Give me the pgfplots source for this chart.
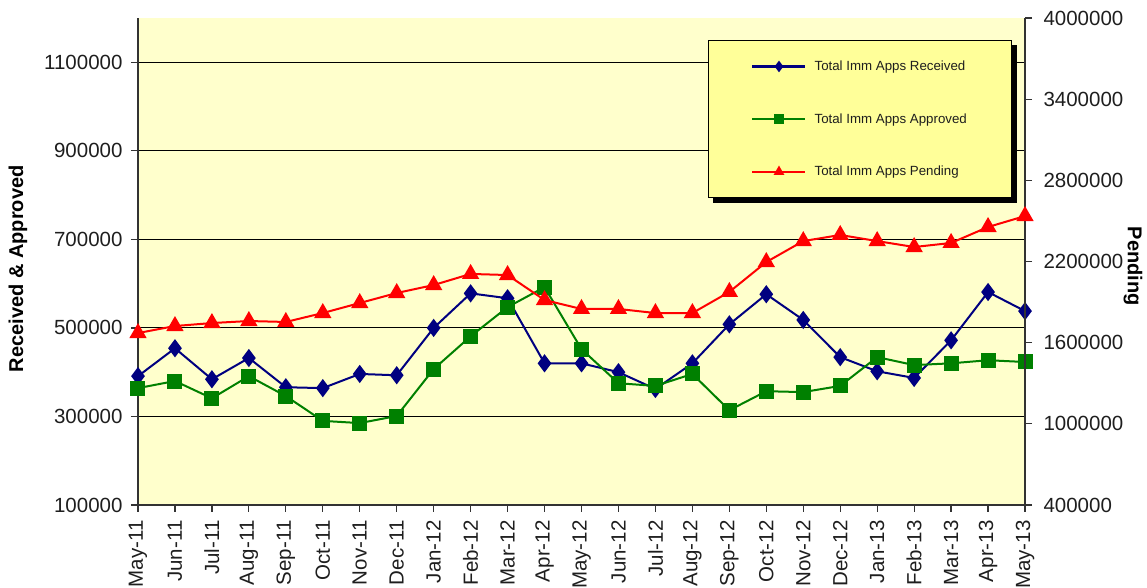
\documentclass[border=0pt]{standalone}
\usepackage{fontspec}
\setmainfont{Liberation Sans}
\usepackage{pgfplots}
\pgfplotsset{compat=1.18}
\definecolor{navyc}{RGB}{0,0,128}
\definecolor{greenc}{RGB}{0,128,0}
\definecolor{redc}{RGB}{255,0,0}
\definecolor{bgyellow}{RGB}{255,255,204}
\definecolor{legyellow}{RGB}{255,255,153}
\definecolor{txt}{RGB}{30,30,30}
\begin{document}
\begin{tikzpicture}
\pgfplotsset{
  common/.style={
    width=887pt, height=487pt, scale only axis,
    at={(0,0)}, anchor=south west,
    xmin=0, xmax=24,
    scaled ticks=false,
    /pgf/number format/fixed,
    /pgf/number format/1000 sep={},
    /pgf/number format/assume math mode=true,
    tick label style={font=\fontsize{20.5}{23}\selectfont, text=txt},
    axis line style={-, black!80, line width=1.2pt},
    tick style={black!80, line width=1.2pt},
    tick align=outside,
    major tick length=7pt,
  }
}
\begin{axis}[common,
  ymin=100000, ymax=1200000,
  ytick={100000,300000,500000,700000,900000,1100000},
  axis x line*=bottom, axis y line*=left,
  ymajorgrids, major grid style={black, line width=1pt},
  axis background/.style={fill=bgyellow},
  xtick={0,...,24},
  xticklabels={May-11,Jun-11,Jul-11,Aug-11,Sep-11,Oct-11,Nov-11,Dec-11,Jan-12,Feb-12,Mar-12,Apr-12,May-12,Jun-12,Jul-12,Aug-12,Sep-12,Oct-12,Nov-12,Dec-12,Jan-13,Feb-13,Mar-13,Apr-13,May-13},
  xticklabel style={rotate=90, anchor=east},
  xticklabel shift=5pt,
  yticklabel shift=5pt,
  ylabel={Received \& Approved},
  every axis y label/.style={at={(axis description cs:-0.1353,0.485)}, rotate=90, anchor=center, font=\fontsize{20}{24}\selectfont\bfseries},
]
\addplot[navyc, line width=2pt, mark=diamond*, mark size=7.5pt, mark options={solid}] coordinates {
(0,391000)(1,454000)(2,384000)(3,432000)(4,366000)(5,364000)(6,396000)(7,393000)(8,500000)(9,578000)(10,567000)(11,420000)(12,420000)(13,400000)(14,362000)(15,420000)(16,508000)(17,576000)(18,518000)(19,434000)(20,402000)(21,387000)(22,472000)(23,581000)(24,538000)};
\addplot[greenc, line width=2pt, mark=square*, mark size=6.5pt, mark options={solid}] coordinates {
(0,364000)(1,380000)(2,341000)(3,391000)(4,346000)(5,290000)(6,285000)(7,301000)(8,407000)(9,481000)(10,547000)(11,592000)(12,452000)(13,375000)(14,369000)(15,396000)(16,314000)(17,357000)(18,355000)(19,369000)(20,434000)(21,416000)(22,420000)(23,427000)(24,423000)};
\end{axis}
\begin{axis}[common,
  ymin=400000, ymax=4000000,
  ytick={400000,1000000,1600000,2200000,2800000,3400000,4000000},
  axis x line=none, axis y line*=right,
  yticklabel shift=8pt,
  ylabel={Pending},
  every axis y label/.style={at={(axis description cs:1.1218,0.49)}, rotate=-90, anchor=center, font=\fontsize{20}{24}\selectfont\bfseries},
  legend style={at={(axis description cs:0.6426,0.9548)}, anchor=north west,
    fill=legyellow, draw=black, line width=0.8pt,
    font=\fontsize{13.3}{15}\selectfont, text=txt,
    inner xsep=43pt, inner ysep=18.5pt, row sep=37.5pt,
    /tikz/every odd column/.append style={column sep=6pt}},
  legend cell align=left,
  legend image code/.code={\draw[mark repeat=2,mark phase=2,#1,line width=2.2pt,mark size=4pt] plot coordinates {(0pt,0pt)(26.5pt,0pt)(53pt,0pt)};},
]
\addlegendimage{navyc, line width=2pt, mark=diamond*, mark options={solid}}
\addlegendentry{Total Imm Apps Received}
\addlegendimage{greenc, line width=2pt, mark=square*, mark options={solid}}
\addlegendentry{Total Imm Apps Approved}
\addplot[redc, line width=2pt, mark=triangle*, mark size=8pt, mark options={solid}] coordinates {
(0,1671000)(1,1723000)(2,1745000)(3,1760000)(4,1753000)(5,1819000)(6,1893000)(7,1967000)(8,2026000)(9,2108000)(10,2100000)(11,1915000)(12,1849000)(13,1849000)(14,1819000)(15,1819000)(16,1975000)(17,2196000)(18,2351000)(19,2396000)(20,2351000)(21,2307000)(22,2337000)(23,2455000)(24,2536000)};
\addlegendentry{Total Imm Apps Pending}
\fill[black] (axis description cs:0.6482,0.6201) rectangle (axis description cs:0.9910,0.9445);
\end{axis}
\pgfresetboundingbox
\path[use as bounding box] (-138pt,-83pt) rectangle (1009pt,505pt);
\end{tikzpicture}
\end{document}
